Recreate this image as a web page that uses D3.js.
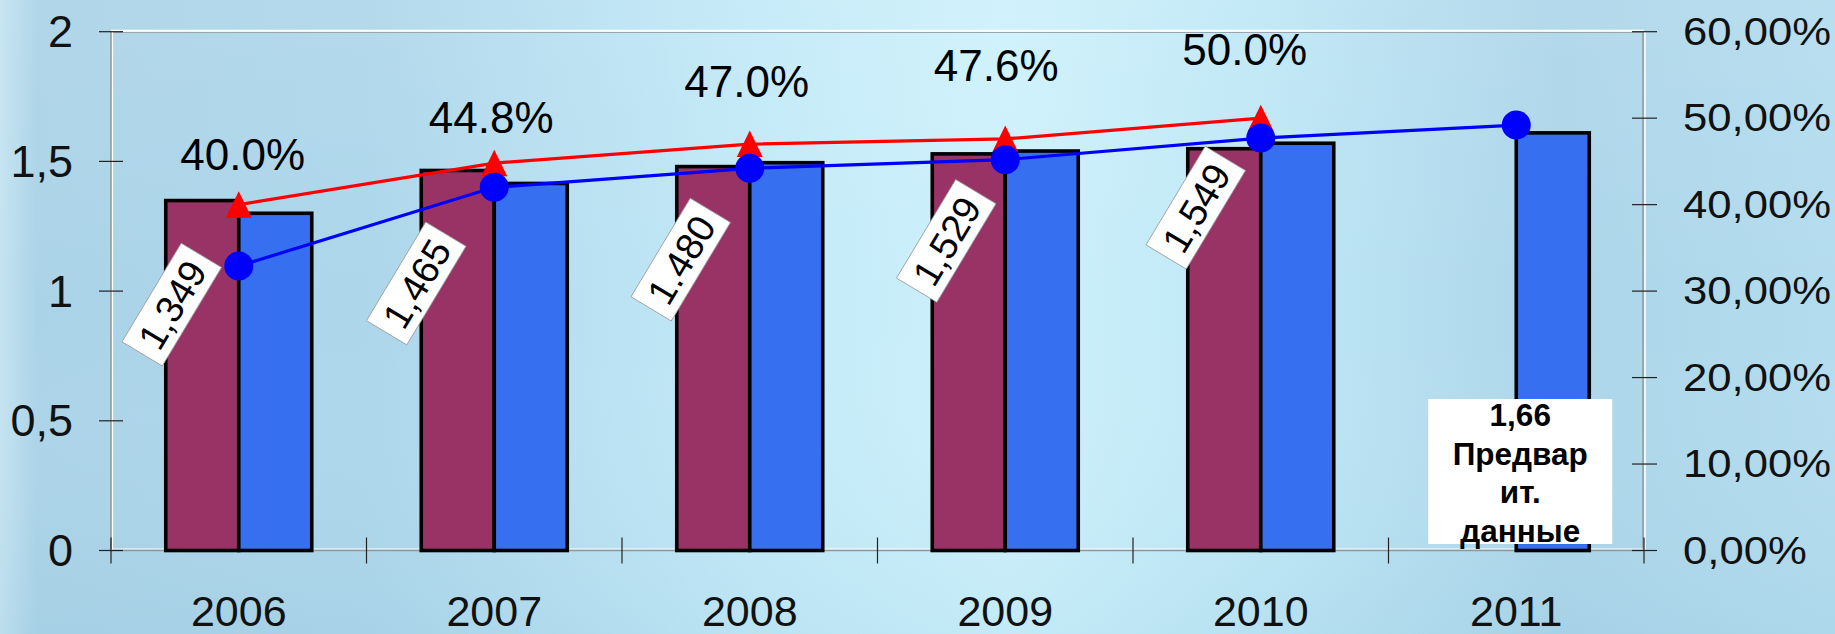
<!DOCTYPE html>
<html><head><meta charset="utf-8">
<script src="https://cdn.jsdelivr.net/npm/d3@7"></script>
<style>
html,body{margin:0;padding:0;overflow:hidden;background:#b8dfef;}
svg{display:block;}
text{font-family:"Liberation Sans",Arial,sans-serif;}
</style>
</head><body>
<svg id="chart" width="1835" height="634"></svg>
<script>
// ---------- data ----------
const years = ["2006","2007","2008","2009","2010","2011"];
const redBars = [1.349, 1.465, 1.480, 1.529, 1.549, null];
const blueBars = [1.30, 1.415, 1.495, 1.54, 1.57, 1.61];
const redBarLabels = ["1,349", "1,465", "1.480", "1,529", "1,549", null];
const redLine = [40.0, 44.8, 47.0, 47.6, 50.0, null];
const redLineLabels = ["40.0%", "44.8%", "47.0%", "47.6%", "50.0%", null];
const blueLine = [32.9, 42.0, 44.2, 45.2, 47.7, 49.2];
const leftTicks = [0, 0.5, 1, 1.5, 2];
const leftTickLabels = ["0", "0,5", "1", "1,5", "2"];
const rightTicks = [0, 10, 20, 30, 40, 50, 60];
const rightTickLabels = ["0,00%", "10,00%", "20,00%", "30,00%", "40,00%", "50,00%", "60,00%"];
const noteLines = ["1,66", "Предвар", "ит.", "данные"];

// ---------- layout (not data) ----------
const W = 1835, H = 634;
const plot = {left: 111, right: 1644, top: 31.7, bottom: 550.5};
const pctLabelShift = [[4,-35],[-3,-30],[-3,-47],[-9,-58],[-16,-53]];
const boxLabelShift = [[-67,104],[-78,113],[-69,93],[-59,87],[-65,59]];

const svg = d3.select("#chart");

// background gradient
const defs = svg.append("defs");
const bg = defs.append("linearGradient").attr("id","bg").attr("x1","0").attr("x2","1").attr("y1","0").attr("y2","0");
[[0,"#c4e3f1"],[0.02,"#abd3e7"],[0.2,"#add6ea"],[0.42,"#c3eaf8"],[0.55,"#cdf1fc"],[0.7,"#bde6f5"],[0.85,"#acd5e9"],[1,"#b3dcee"]]
  .forEach(([o,c]) => bg.append("stop").attr("offset",o).attr("stop-color",c));
svg.append("rect").attr("width",W).attr("height",H).attr("fill","url(#bg)");
const vg = defs.append("linearGradient").attr("id","vg").attr("x1","0").attr("x2","0").attr("y1","0").attr("y2","1");
[[0,"#ffffff",0.08],[0.5,"#ffffff",0.0],[1,"#7fb6d0",0.12]]
  .forEach(([o,c,a]) => vg.append("stop").attr("offset",o).attr("stop-color",c).attr("stop-opacity",a));
svg.append("rect").attr("width",W).attr("height",H).attr("fill","url(#vg)");

// scales
const x0 = d3.scaleBand().domain(years).range([plot.left, plot.right]).padding(0);
const yL = d3.scaleLinear().domain([0, 2]).range([plot.bottom, plot.top]);
const yR = d3.scaleLinear().domain([0, 60]).range([plot.bottom, plot.top]);
const bw = x0.bandwidth();
const barW = bw / 3.5;
const cx = i => x0(years[i]) + bw / 2;

// plot frame lines (white + grey)
const frame = svg.append("g");
frame.append("line").attr("x1",plot.left).attr("x2",plot.right).attr("y1",plot.top-1).attr("y2",plot.top-1).attr("stroke","#ffffff").attr("stroke-width",2);
frame.append("line").attr("x1",plot.left).attr("x2",plot.right).attr("y1",plot.top+0.8).attr("y2",plot.top+0.8).attr("stroke","#9aa6ad").attr("stroke-width",1.2);
frame.append("line").attr("x1",plot.right-1).attr("x2",plot.right-1).attr("y1",plot.top).attr("y2",plot.bottom).attr("stroke","#8e979c").attr("stroke-width",1.5);
frame.append("line").attr("x1",plot.right+1).attr("x2",plot.right+1).attr("y1",plot.top).attr("y2",plot.bottom).attr("stroke","#ffffff").attr("stroke-width",1.5);
frame.append("line").attr("x1",plot.left).attr("x2",plot.left).attr("y1",plot.top).attr("y2",plot.bottom).attr("stroke","#8e979c").attr("stroke-width",1.5);
frame.append("line").attr("x1",plot.left+1.5).attr("x2",plot.left+1.5).attr("y1",plot.top).attr("y2",plot.bottom).attr("stroke","#ffffff").attr("stroke-width",1.2);
frame.append("line").attr("x1",plot.left).attr("x2",plot.right).attr("y1",plot.bottom-1.5).attr("y2",plot.bottom-1.5).attr("stroke","#ffffff").attr("stroke-width",1.2);
frame.append("line").attr("x1",plot.left).attr("x2",plot.right).attr("y1",plot.bottom).attr("y2",plot.bottom).attr("stroke","#8e979c").attr("stroke-width",1.5);

// bars
const bars = svg.append("g");
bars.selectAll("rect.red").data(redBars.map((v,i)=>({v,i})).filter(d=>d.v!=null)).join("rect")
  .attr("x", d => cx(d.i) - barW).attr("width", barW)
  .attr("y", d => yL(d.v)).attr("height", d => yL(0) - yL(d.v))
  .attr("fill", "#993366").attr("stroke", "#000").attr("stroke-width", 3.6);
bars.selectAll("rect.blue").data(blueBars.map((v,i)=>({v,i})).filter(d=>d.v!=null)).join("rect")
  .attr("x", d => cx(d.i)).attr("width", barW)
  .attr("y", d => yL(d.v)).attr("height", d => yL(0) - yL(d.v))
  .attr("fill", "#3670f0").attr("stroke", "#000").attr("stroke-width", 3.6);

// red line with triangles
const redPts = redLine.map((v,i)=>({v,i})).filter(d=>d.v!=null);
svg.append("path").datum(redPts)
  .attr("d", d3.line().x(d=>cx(d.i)).y(d=>yR(d.v)))
  .attr("fill","none").attr("stroke","#ff0000").attr("stroke-width",3.2);
svg.append("g").selectAll("path").data(redPts).join("path")
  .attr("transform", d => `translate(${cx(d.i)},${yR(d.v)})`)
  .attr("d", "M0,-13.5L13,13L-13,13Z").attr("fill","#ff0000");

// blue line with dots
const bluePts = blueLine.map((v,i)=>({v,i})).filter(d=>d.v!=null);
svg.append("path").datum(bluePts)
  .attr("d", d3.line().x(d=>cx(d.i)).y(d=>yR(d.v)))
  .attr("fill","none").attr("stroke","#0000ff").attr("stroke-width",3.2);
svg.append("g").selectAll("circle").data(bluePts).join("circle")
  .attr("cx", d => cx(d.i)).attr("cy", d => yR(d.v)).attr("r", 14.5).attr("fill","#0000ff");

// rotated value labels for red bars
const boxes = svg.append("g").selectAll("g").data(redBars.map((v,i)=>({v,i,t:redBarLabels[i]})).filter(d=>d.v!=null)).join("g")
  .attr("transform", d => `translate(${cx(d.i)+boxLabelShift[d.i][0]},${yL(d.v)+boxLabelShift[d.i][1]}) rotate(-59)`);
boxes.append("rect").attr("x",-57.5).attr("y",-23.5).attr("width",115).attr("height",47)
  .attr("fill","#ffffff").attr("stroke","#9a9a9a").attr("stroke-width",0.8);
boxes.append("text").attr("text-anchor","middle").attr("dominant-baseline","central").attr("y",1)
  .attr("font-size",38).attr("fill","#000").text(d=>d.t);

// percent labels
svg.append("g").selectAll("text").data(redPts).join("text")
  .attr("x", d => cx(d.i) + pctLabelShift[d.i][0])
  .attr("y", d => yR(d.v) + pctLabelShift[d.i][1])
  .attr("text-anchor","middle").attr("font-size",44).attr("fill","#000")
  .text(d => redLineLabels[d.i]);

// note box for 2011
const ni = years.length - 1;
const noteG = svg.append("g").attr("transform", `translate(${cx(ni)+4},${yL(0)-151.5})`);
noteG.append("rect").attr("x",-92).attr("y",0).attr("width",184).attr("height",145).attr("fill","#ffffff");
noteG.selectAll("text").data(noteLines).join("text")
  .attr("x",0).attr("y",(d,i)=>27 + i*38.5)
  .attr("text-anchor","middle").attr("font-size",31.5).attr("font-weight","bold").attr("fill","#000")
  .text(d=>d);

// left axis ticks + labels
const tickCol = "#222";
svg.append("g").selectAll("line").data(leftTicks).join("line")
  .attr("x1", plot.left-12).attr("x2", plot.left+12).attr("y1", d=>yL(d)).attr("y2", d=>yL(d))
  .attr("stroke", tickCol).attr("stroke-width",1.2);
svg.append("g").selectAll("text").data(leftTicks).join("text")
  .attr("x", 73).attr("y", d=>yL(d)).attr("dominant-baseline","central").attr("text-anchor","end")
  .attr("font-size",45).attr("fill","#111").text((d,i)=>leftTickLabels[i]);

// right axis ticks + labels
svg.append("g").selectAll("line").data(rightTicks).join("line")
  .attr("x1", plot.right-12).attr("x2", plot.right+13).attr("y1", d=>yR(d)).attr("y2", d=>yR(d))
  .attr("stroke", tickCol).attr("stroke-width",1.2);
svg.append("g").selectAll("text").data(rightTicks).join("text")
  .attr("transform", d => `translate(1683,${yR(d)}) scale(1.12,1)`)
  .attr("dominant-baseline","central").attr("text-anchor","start")
  .attr("font-size",39).attr("fill","#111").text((d,i)=>rightTickLabels[i]);

// bottom axis ticks (category boundaries) + labels
const bounds = years.map(y=>x0(y)).concat([plot.right]);
svg.append("g").selectAll("line").data(bounds).join("line")
  .attr("x1", d=>d).attr("x2", d=>d).attr("y1", plot.bottom-13).attr("y2", plot.bottom+13)
  .attr("stroke", tickCol).attr("stroke-width",1.2);
svg.append("g").selectAll("text").data(years).join("text")
  .attr("x", (d,i)=>cx(i)).attr("y", 626).attr("text-anchor","middle")
  .attr("font-size",43).attr("fill","#111").text(d=>d);
</script>
</body></html>
